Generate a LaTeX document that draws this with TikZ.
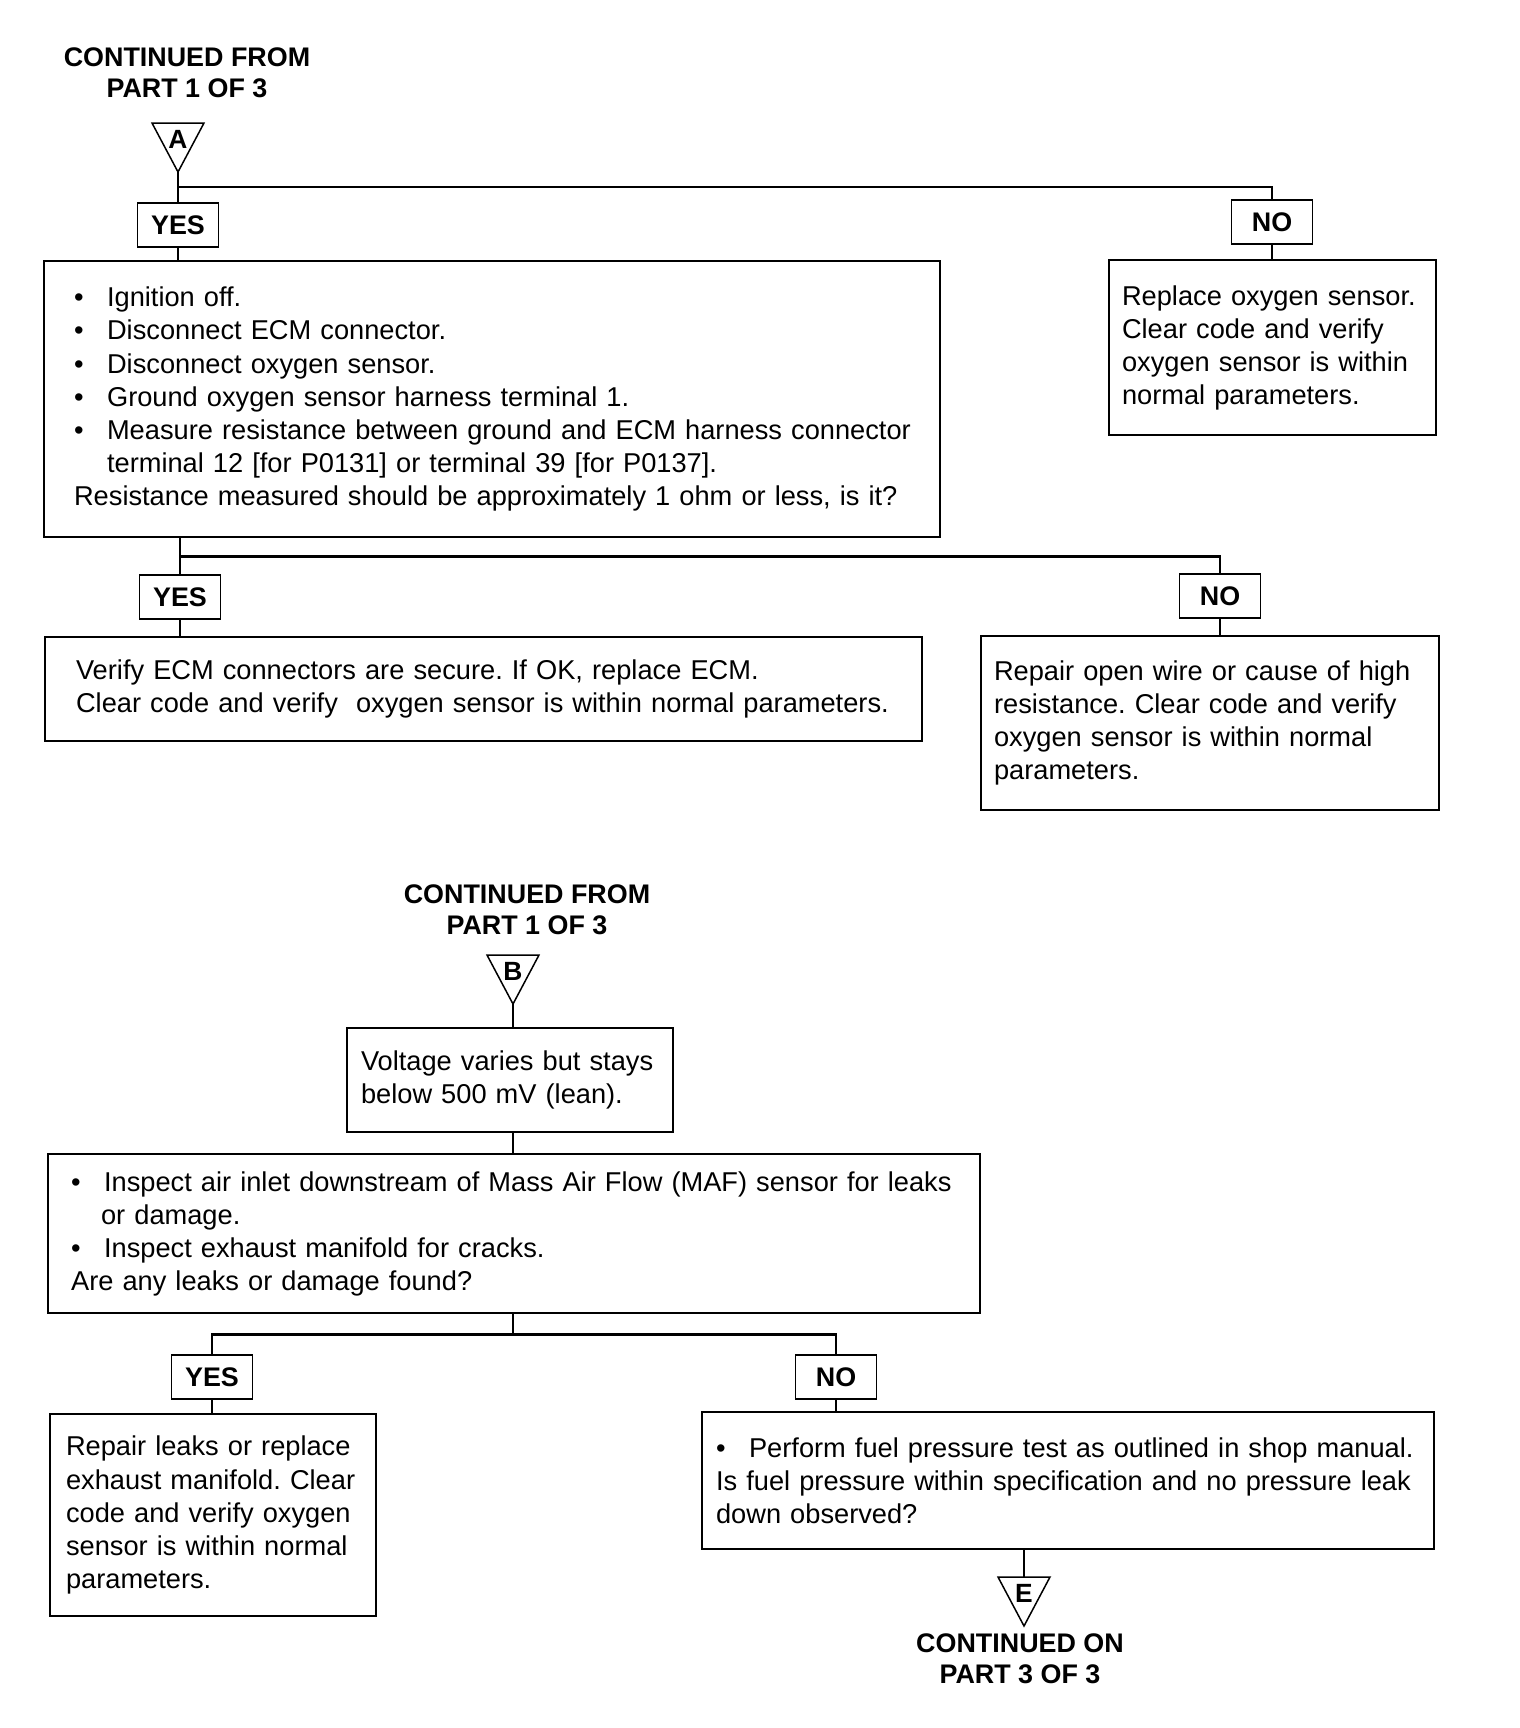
\documentclass[tikz,border=0pt]{standalone}
\usepackage{fontspec}
\setmainfont{Liberation Sans}
\usetikzlibrary{positioning, calc}
\frenchspacing

\newcommand{\itm}[1]{\mbox{\makebox[0.66cm][l]{\textbullet}#1}}

\begin{document}
\begin{tikzpicture}[x=0.02cm, y=-0.02cm,
  font=\fontsize{15.5}{18.8}\selectfont,
  box/.style={draw, line width=1.5pt, align=left, inner ysep=0pt},
  tag/.style={draw, line width=1.1pt, font=\fontsize{15.3}{18}\selectfont\bfseries,
              minimum width=1.62cm, minimum height=0.87cm, inner sep=0pt},
  head/.style={align=center, font=\fontsize{15.3}{17.6}\selectfont\bfseries},
  letter/.style={font=\fontsize{15}{18}\selectfont\bfseries, inner sep=0pt},
  link/.style={line width=1.5pt},
  tri/.style={line width=0.85pt, line join=miter}]
\useasboundingbox (0,0) rectangle (1520,1728);

% part A
\node[head] (hdrA) at (187,73) {CONTINUED FROM\\PART 1 OF 3};
\node[letter] (A) at (178,139) {A};
\node[tag] (yesA) at (178,225) {YES};
\node[tag] (noA) at (1272,222) {NO};
\node[box, inner xsep=0.6cm, text width=16.72cm, minimum height=5.52cm] (ohm) at (492,399) {%
  \itm{Ignition off.}\\
  \itm{Disconnect ECM connector.}\\
  \itm{Disconnect oxygen sensor.}\\
  \itm{Ground oxygen sensor harness terminal 1.}\\
  \itm{Measure resistance between ground and ECM harness connector}\\
  \hspace*{0.66cm}terminal 12 [for P0131] or terminal 39 [for P0137].\\
  Resistance measured should be approximately 1 ohm or less, is it?};
\node[box, inner xsep=0.26cm, text width=6.02cm, minimum height=3.5cm] (swap) at (1272.5,347.5) {%
  Replace oxygen sensor.\\ Clear code and verify\\ oxygen sensor is within\\ normal parameters.};
\node[tag] (yesB) at (180,597) {YES};
\node[tag] (noB) at (1220,596) {NO};
\node[box, inner xsep=0.62cm, text width=16.3cm, minimum height=2.08cm] (ecm) at (483.5,689) {%
  Verify ECM connectors are secure. If OK, replace ECM.\\
  \mbox{Clear code and verify\ \ oxygen sensor is within normal parameters.}};
\node[box, inner xsep=0.26cm, text width=8.64cm, minimum height=3.48cm] (wire) at (1210,723) {%
  Repair open wire or cause of high\\ resistance. Clear code and verify\\
  oxygen sensor is within normal\\ parameters.};

% part B
\node[head] (hdrB) at (527,910) {CONTINUED FROM\\PART 1 OF 3};
\node[letter] (B) at (513,971) {B};
\node[box, inner xsep=0.28cm, text width=5.96cm, minimum height=2.08cm] (volt) at (510,1080) {%
  \mbox{Voltage varies but stays}\\ below 500 mV (lean).};
\node[box, inner xsep=0.46cm, text width=17.72cm, minimum height=3.18cm] (leak) at (514,1233.5) {%
  \itm{Inspect air inlet downstream of Mass Air Flow (MAF) sensor for leaks}\\
  \hspace*{0.6cm}or damage.\\
  \itm{Inspect exhaust manifold for cracks.}\\
  Are any leaks or damage found?};
\node[tag] (yesC) at (212,1377) {YES};
\node[tag] (noC) at (836,1377) {NO};
\node[box, inner xsep=0.32cm, text width=5.88cm, minimum height=4.04cm] (mani) at (213,1515) {%
  Repair leaks or replace\\ exhaust manifold. Clear\\ code and verify oxygen\\
  sensor is within normal\\ parameters.};
\node[box, inner xsep=0.28cm, text width=14.08cm, minimum height=2.74cm] (fuel) at (1068,1480.5) {%
  \itm{Perform fuel pressure test as outlined in shop manual.}\\
  Is fuel pressure within specification and no pressure leak\\
  down observed?};
\node[letter] (E) at (1024,1593) {E};
\node[head] (hdrE) at (1020,1659) {CONTINUED ON\\PART 3 OF 3};

% off-page triangles
\foreach \n in {A,B,E}
  \draw[tri] ($(\n)+(-26,-16)$) coordinate (\n-top) -- ($(\n)+(26,-16)$)
    -- ($(\n)+(0,33)$) coordinate (\n-tip) -- cycle;

% connectors
\draw[link] (A-tip) -- (yesA);
\coordinate (jA) at ($(A-tip)!0.5!(yesA.north)$);
\draw[link] (jA) -| (noA);
\draw[link] (yesA) -- (yesA |- ohm.north);
\draw[link] (noA) -- (noA |- swap.north);
\draw[link] (ohm.south -| yesB) -- (yesB);
\coordinate (jB) at ($(ohm.south -| yesB)!0.5!(yesB.north)$);
\draw[link] (jB) -| (noB);
\draw[link] (yesB) -- (yesB |- ecm.north);
\draw[link] (noB) -- (noB |- wire.north);

\draw[link] (B-tip) -- (B-tip |- volt.north);
\draw[link] (B-tip |- volt.south) -- (B-tip |- leak.north);
\draw[link] (B-tip |- leak.south) -- ++(0,20) coordinate (jC);
\draw[link] (yesC) |- (jC) -| (noC);
\draw[link] (yesC) -- (yesC |- mani.north);
\draw[link] (noC) -- (noC |- fuel.north);
\draw[link] (E-tip |- fuel.south) -- (E-tip |- E-top);
\end{tikzpicture}
\end{document}
